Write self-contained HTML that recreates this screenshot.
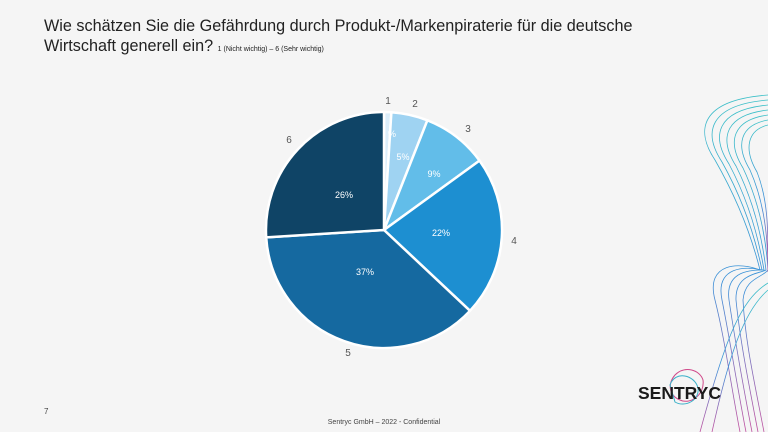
<!DOCTYPE html>
<html><head><meta charset="utf-8"><style>
body{margin:0;width:768px;height:432px;background:#f5f5f5;font-family:"Liberation Sans",sans-serif;overflow:hidden;position:relative}
.t{position:absolute;left:44px;top:17px;font-size:16.2px;line-height:19.5px;color:#222}
.t small{font-size:7px}
</style></head><body>
<div class="t">Wie schätzen Sie die Gefährdung durch Produkt-/Markenpiraterie für die deutsche<br>Wirtschaft generell ein? <small>1 (Nicht wichtig) – 6 (Sehr wichtig)</small></div>
<svg width="768" height="432" style="position:absolute;left:0;top:0">
<defs><linearGradient id="g" x1="0" y1="0" x2="0" y2="1"><stop offset="0" stop-color="#3cc0c8"/><stop offset="0.55" stop-color="#3a8fd8"/><stop offset="1" stop-color="#c050a0"/></linearGradient></defs>
<g fill="none" stroke="url(#g)" stroke-width="0.8">
<path d="M768 95 C700 100 695 130 715 160 C735 195 750 230 760 270 C740 262 705 262 715 300 C725 340 730 380 740 432"/>
<path d="M768 100 C708 105 703 133 722 162 C741 196 754 232 762 270 C746 266 715 266 722 300 C730 340 736 380 746 432"/>
<path d="M768 105 C716 110 711 136 729 164 C747 198 758 234 764 270 C752 270 725 270 729 300 C735 340 742 380 752 432"/>
<path d="M768 110 C724 115 719 139 736 166 C753 200 762 236 766 270 C758 274 735 274 736 300 C740 340 748 380 758 432"/>
<path d="M768 115 C732 120 727 142 743 168 C759 202 766 238 768 270 C762 278 745 278 743 300 C745 340 754 380 764 432"/>
<path d="M768 120 C740 125 735 145 750 170 C765 204 768 240 768 272"/>
<path d="M768 125 C748 130 743 148 757 172 C768 200 768 230 768 260"/>
<path d="M768 283 C740 300 725 340 700 432"/>
<path d="M768 290 C745 310 730 350 712 432"/>
</g>
<g stroke="#fff" stroke-width="2.5" stroke-linejoin="round">
<path d="M384 230 L384 112 A118 118 0 0 1 391.4 112.2Z" fill="#dceefa"/>
<path d="M384 230 L391.4 112.2 A118 118 0 0 1 427.4 120.3Z" fill="#9fd3f2"/>
<path d="M384 230 L427.4 120.3 A118 118 0 0 1 479.5 160.6Z" fill="#62bde9"/>
<path d="M384 230 L479.5 160.6 A118 118 0 0 1 470 310.8Z" fill="#1d8fd1"/>
<path d="M384 230 L470 310.8 A118 118 0 0 1 266.2 237.4Z" fill="#1569a0"/>
<path d="M384 230 L266.2 237.4 A118 118 0 0 1 384 112Z" fill="#0f4466"/>
</g>
<g font-family="Liberation Sans,sans-serif" font-size="9" fill="#fff" text-anchor="middle">
<text x="392" y="137">%</text><text x="403" y="160">5%</text><text x="434" y="177">9%</text>
<text x="441" y="236">22%</text><text x="365" y="275">37%</text><text x="344" y="198">26%</text>
</g>
<g font-family="Liberation Sans,sans-serif" font-size="10" fill="#555" text-anchor="middle">
<text x="388" y="104">1</text><text x="415" y="107">2</text><text x="468" y="132">3</text>
<text x="514" y="244">4</text><text x="348" y="356">5</text><text x="289" y="143">6</text>
</g>
<text x="44" y="414" font-family="Liberation Sans,sans-serif" font-size="8" fill="#444">7</text>
<text x="384" y="424" font-family="Liberation Sans,sans-serif" font-size="7" fill="#444" text-anchor="middle">Sentryc GmbH – 2022 - Confidential</text>
<g fill="none" stroke-width="1">
<path d="M675 375 C685 365 700 370 703 380 C705 395 690 405 680 400 C668 395 668 383 675 375Z" stroke="#d04a8a"/>
<path d="M670 385 C675 370 695 375 698 388 C700 400 685 408 675 402Z" stroke="#3ab0c8"/>
</g>
<text x="638" y="399" font-family="Liberation Sans,sans-serif" font-size="17.5" font-weight="bold" fill="#1a1a1a">SENTRYC</text>
</svg>
</body></html>
